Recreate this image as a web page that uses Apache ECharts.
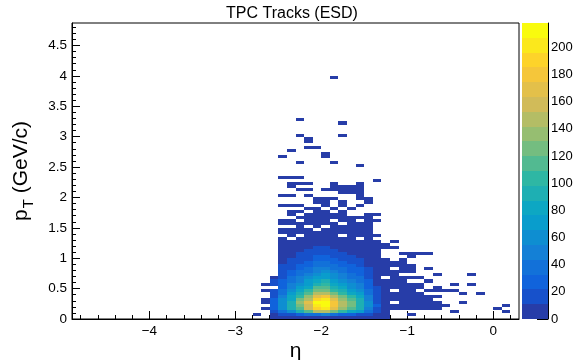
<!DOCTYPE html>
<html>
<head>
<meta charset="utf-8">
<script src="https://cdn.jsdelivr.net/npm/echarts@6/dist/echarts.min.js"></script>
<style>
  html, body { margin: 0; padding: 0; background: #fff; }
  #chart { width: 574px; height: 360px; }
</style>
</head>
<body>
<div id="chart"></div>
<script>
// bin sizes of the 2D histogram
const etaStep = 0.1;
const ptStep = 0.05;

// dense core: eta low edges of the columns, counts per pT bin (row j = pT j*0.05)
const coreEta = [-2.7, -2.6, -2.5, -2.4, -2.3, -2.2, -2.1, -2.0, -1.9, -1.8, -1.7, -1.6, -1.5, -1.4, -1.3, -1.2];
const coreCounts = [
  [0, 1, 2, 3, 5, 6, 8, 8, 7, 5, 4, 4, 2, 1, 1, 0],
  [0, 5, 13, 20, 27, 34, 42, 45, 38, 31, 25, 21, 12, 4, 2, 0],
  [0, 17, 43, 65, 91, 113, 146, 150, 124, 106, 84, 69, 38, 15, 5, 0],
  [1, 24, 55, 89, 118, 153, 190, 200, 167, 139, 115, 88, 53, 20, 7, 3],
  [0, 26, 61, 94, 130, 162, 207, 215, 177, 151, 121, 98, 55, 22, 8, 2],
  [3, 27, 60, 97, 131, 166, 210, 218, 182, 152, 125, 97, 58, 21, 8, 0],
  [3, 23, 57, 87, 121, 151, 193, 199, 165, 141, 113, 91, 51, 20, 6, 2],
  [0, 21, 48, 78, 104, 134, 167, 176, 146, 122, 101, 78, 46, 17, 6, 3],
  [0, 18, 42, 66, 91, 113, 143, 151, 124, 106, 85, 68, 39, 15, 5, 2],
  [1, 16, 36, 57, 78, 99, 125, 130, 108, 91, 74, 58, 34, 13, 5, 0],
  [0, 0, 32, 50, 68, 87, 109, 114, 95, 80, 65, 51, 30, 11, 4, 2],
  [1, 12, 28, 44, 60, 76, 96, 100, 83, 70, 57, 45, 26, 10, 3, 2],
  [0, 11, 25, 39, 53, 67, 84, 88, 73, 62, 50, 40, 23, 9, 3, 1],
  [0, 9, 21, 33, 46, 58, 73, 76, 63, 53, 43, 34, 20, 8, 0, 2],
  [0, 0, 18, 29, 40, 50, 63, 66, 55, 46, 38, 30, 17, 7, 3, 1],
  [0, 0, 16, 25, 34, 43, 54, 56, 46, 39, 32, 25, 15, 6, 2, 1],
  [0, 0, 13, 21, 29, 36, 46, 48, 40, 34, 27, 22, 12, 5, 2, 0],
  [0, 0, 11, 18, 24, 30, 38, 40, 33, 28, 23, 18, 10, 4, 1, 1],
  [0, 0, 10, 15, 20, 26, 33, 34, 28, 24, 19, 15, 9, 3, 2, 1],
  [0, 0, 8, 12, 17, 21, 27, 28, 23, 20, 16, 13, 7, 3, 1, 0],
  [0, 0, 6, 10, 14, 17, 22, 23, 19, 16, 13, 10, 6, 2, 0, 0],
  [0, 0, 5, 8, 11, 14, 17, 18, 15, 13, 10, 8, 5, 2, 0, 0],
  [0, 0, 4, 7, 9, 11, 14, 20, 12, 10, 9, 7, 4, 1, 0, 0],
  [0, 0, 3, 5, 7, 9, 12, 12, 10, 8, 7, 5, 3, 2, 1, 1]
];

// sparse cells outside the core: [eta, first pT row, counts upward]
const tailColumns = [
  [-2.8, 1, [1]],
  [-2.5, 24, [6, 4, 3, 0, 2, 2, 0, 1, 1, 0, 0, 0, 0, 1, 0, 0, 1, 0, 0, 0, 0, 0, 1, 0, 0, 0, 0, 0, 0, 1]],
  [-2.4, 24, [8, 6, 0, 4, 3, 2, 0, 2, 1, 0, 1, 1, 0, 1, 0, 0, 1, 0, 0, 1, 1, 0, 1, 0, 0, 0, 0, 0, 0, 0, 0, 1]],
  [-2.3, 24, [9, 7, 6, 0, 4, 3, 2, 2, 0, 1, 0, 1, 0, 1, 0, 0, 0, 0, 1, 0, 1, 0, 1, 0, 0, 0, 0, 1, 0, 0, 0, 0, 0, 0, 0, 0, 1, 0, 0, 0, 0, 1]],
  [-2.2, 24, [10, 8, 6, 5, 4, 3, 0, 2, 2, 1, 1, 0, 1, 0, 0, 0, 1, 0, 1, 0, 1, 0, 0, 0, 0, 0, 0, 0, 0, 0, 0, 0, 1, 0, 1, 1]],
  [-2.1, 24, [10, 9, 7, 6, 5, 0, 3, 3, 2, 2, 1, 2, 1, 0, 1, 1, 0, 0, 0, 0, 0, 0, 0, 0, 0, 0, 0, 0, 0, 0, 0, 0, 1]],
  [-2.0, 24, [10, 9, 8, 6, 5, 5, 0, 3, 3, 2, 2, 1, 0, 1, 1, 1, 0, 0, 1, 0, 0, 0, 0, 0, 0, 0, 0, 0, 0, 1, 1]],
  [-1.9, 24, [9, 8, 6, 5, 4, 4, 3, 2, 0, 1, 1, 0, 1, 0, 0, 1, 0, 0, 1, 1, 1, 0, 0, 0, 0, 0, 0, 1,
              0, 0, 0, 0, 0, 0, 0, 0, 0, 0, 0, 0, 0, 0, 0, 0, 0, 0, 0, 0, 0, 0, 0, 0, 0, 0, 0, 1]],
  [-1.8, 24, [8, 7, 5, 0, 4, 3, 2, 0, 2, 1, 1, 1, 0, 1, 1, 0, 0, 1, 1, 1, 0, 0, 0, 0, 0, 0, 0, 0, 0, 0, 0, 0, 0, 0, 0, 0, 1, 0, 0, 0, 1]],
  [-1.7, 24, [7, 6, 5, 4, 3, 2, 2, 1, 1, 1, 0, 0, 1, 0, 0, 0, 0, 1, 1, 1]],
  [-1.6, 24, [5, 5, 0, 3, 3, 2, 1, 1, 0, 1, 0, 0, 0, 1, 0, 1, 1, 1, 1, 1, 1, 0, 0, 0, 0, 0, 1]],
  [-1.5, 24, [3, 3, 2, 2, 1, 1, 1, 1, 1, 1, 1, 0, 0, 0, 1, 1]],
  [-1.4, 24, [2, 1, 0, 1, 0, 0, 0, 0, 1, 0, 1, 0, 0, 0, 0, 0, 0, 0, 0, 0, 0, 1]],
  [-1.3, 24, [1]],
  [-1.2, 24, [0, 1]],
  [-1.1, 3, [2, 3, 3, 2, 3, 2, 2, 2, 1, 2, 1, 0, 1, 1, 1, 1, 1, 0, 1]],
  [-1.0, 1, [1, 0, 1, 2, 2, 1, 2, 1, 1, 1, 1, 0, 1, 0, 1, 1, 1, 0, 0, 1, 1]],
  [-0.9, 3, [1, 1, 2, 1, 1, 1, 0, 1, 1, 0, 1, 0, 0, 0, 0, 0, 0, 0, 1]],
  [-0.8, 3, [1, 1, 1, 1, 1, 0, 1, 0, 0, 1, 0, 0, 0, 1, 0, 0, 0, 0, 1]],
  [-0.7, 3, [1, 1, 1, 0, 1, 0, 1, 1, 0, 0, 0, 1]],
  [-0.6, 4, [1, 0, 0, 0, 0, 1]],
  [-0.5, 2, [1, 0, 0, 0, 0, 0, 0, 1, 0, 1]],
  [-0.4, 5, [1, 0, 0, 1]],
  [-0.3, 11, [1, 0, 0, 1]],
  [-0.2, 8, [1]],
  [0.0, 3, [1]],
  [0.1, 2, [1, 0, 1]]
];

const xMajorTicks = [-4, -3, -2, -1, 0];
const yMajorTicks = [0, 0.5, 1, 1.5, 2, 2.5, 3, 3.5, 4, 4.5];
const zTicks = [0, 20, 40, 60, 80, 100, 120, 140, 160, 180, 200];
const zMax = 218;
const nContours = 20;

const font = "'Liberation Sans', Arial, Helvetica, sans-serif";

// ROOT kBird palette
const birdStops = [0.0, 0.125, 0.25, 0.375, 0.5, 0.625, 0.75, 0.875, 1.0];
const birdR = [0.2082, 0.0592, 0.0780, 0.0232, 0.1802, 0.5301, 0.8186, 0.9956, 0.9764];
const birdG = [0.1664, 0.3599, 0.5041, 0.6419, 0.7178, 0.7492, 0.7328, 0.7862, 0.9832];
const birdB = [0.5293, 0.8684, 0.8385, 0.7914, 0.6425, 0.4662, 0.3499, 0.1968, 0.0539];

function birdColor(t) {
  let k = 0;
  while (k < birdStops.length - 2 && t > birdStops[k + 1]) k++;
  const f = (t - birdStops[k]) / (birdStops[k + 1] - birdStops[k]);
  const ch = (a) => Math.round(255 * (a[k] + f * (a[k + 1] - a[k])));
  return 'rgb(' + ch(birdR) + ',' + ch(birdG) + ',' + ch(birdB) + ')';
}

const levels = [];
for (let i = 0; i <= nContours; i++) levels.push(zMax * i / nContours);
const bandColors = levels.slice(0, -1).map((_, i) => birdColor(Math.floor((i + 0.99) * 255 / nContours) / 254));
const bands = levels.slice(0, -1).map((lo, i) => [lo, levels[i + 1], (lo + levels[i + 1]) / 2]);
const pieces = bands.map(([lo, hi], i) => (i === nContours - 1
  ? { gte: lo, lte: hi + 1000, color: bandColors[i] }
  : { gte: lo, lt: hi, color: bandColors[i] }));

const cells = [];
coreCounts.forEach((row, j) => row.forEach((c, i) => {
  if (c > 0) cells.push([coreEta[i], +(j * ptStep).toFixed(2), c]);
}));
tailColumns.forEach(([eta, start, counts]) => counts.forEach((c, k) => {
  if (c > 0) cells.push([eta, +((start + k) * ptStep).toFixed(2), c]);
}));

const xMinorTicks = [];
for (let v = -48; v <= 2; v += 2) xMinorTicks.push(v / 10);
const yMinorTicks = [];
for (let v = 0; v <= 48; v++) yMinorTicks.push(v / 10);

const chart = echarts.init(document.getElementById('chart'), null, { renderer: 'canvas' });

const axisBase = {
  axisLine: { onZero: false, lineStyle: { color: '#000', width: 1 } },
  splitLine: { show: false }
};

const option = {
  animation: false,
  backgroundColor: '#fff',
  title: {
    text: 'TPC Tracks (ESD)',
    left: 292,
    top: 6,
    textAlign: 'center',
    padding: 0,
    textStyle: { fontFamily: font, fontSize: 16, fontWeight: 'normal', color: '#000' }
  },
  grid: [
    { left: 72, top: 23, width: 447, height: 296, show: true, borderColor: '#000', borderWidth: 1,
      backgroundColor: 'transparent', containLabel: false, outerBoundsMode: 'none' },
    { left: 522, top: 23, width: 26, height: 296, show: false, containLabel: false, outerBoundsMode: 'none' }
  ],
  visualMap: {
    type: 'piecewise',
    show: false,
    dimension: 2,
    seriesIndex: [0, 1],
    pieces: pieces
  },
  xAxis: [
    Object.assign({}, axisBase, {
      gridIndex: 0, type: 'value', min: -4.9, max: 0.3, position: 'bottom',
      axisTick: { show: true, inside: true, length: 8, customValues: xMajorTicks, lineStyle: { color: '#000' } },
      axisLabel: {
        customValues: xMajorTicks, color: '#000', fontFamily: font, fontSize: 13.5, margin: 5,
        formatter: (v) => (v < 0 ? '\u2212' + Math.abs(v) : String(v))
      },
      name: 'η', nameLocation: 'middle', nameGap: 22, nameMoveOverlap: false,
      nameTextStyle: { fontFamily: font, fontSize: 21, color: '#000' }
    }),
    Object.assign({}, axisBase, {
      gridIndex: 0, type: 'value', min: -4.9, max: 0.3, position: 'bottom',
      axisLine: { show: false, onZero: false },
      axisTick: { show: true, inside: true, length: 4, customValues: xMinorTicks, lineStyle: { color: '#000' } },
      axisLabel: { show: false }
    }),
    { gridIndex: 1, type: 'value', min: 0, max: 1, show: false }
  ],
  yAxis: [
    Object.assign({}, axisBase, {
      gridIndex: 0, type: 'value', min: 0, max: 4.87, position: 'left',
      axisTick: { show: true, inside: true, length: 8, customValues: yMajorTicks, lineStyle: { color: '#000' } },
      axisLabel: { customValues: yMajorTicks, color: '#000', fontFamily: font, fontSize: 13.5, margin: 5 },
      name: '{a|p}{b|T}{a| (GeV/c)}', nameLocation: 'middle', nameGap: 36, nameRotate: 90, nameMoveOverlap: false,
      nameTextStyle: {
        rich: {
          a: { fontFamily: font, fontSize: 21, color: '#000', verticalAlign: 'top' },
          b: { fontFamily: font, fontSize: 15, color: '#000', verticalAlign: 'top', padding: [10, 0, 0, 1] }
        }
      }
    }),
    Object.assign({}, axisBase, {
      gridIndex: 0, type: 'value', min: 0, max: 4.87, position: 'left',
      axisLine: { show: false, onZero: false },
      axisTick: { show: true, inside: true, length: 4, customValues: yMinorTicks, lineStyle: { color: '#000' } },
      axisLabel: { show: false }
    }),
    Object.assign({}, axisBase, {
      gridIndex: 1, type: 'value', min: 0, max: zMax, position: 'right',
      axisTick: { show: true, inside: true, length: 11, customValues: zTicks, lineStyle: { color: '#000' } },
      axisLabel: { customValues: zTicks, color: '#000', fontFamily: font, fontSize: 13, margin: 3 }
    })
  ],
  series: [
    {
      type: 'custom',
      xAxisIndex: 0,
      yAxisIndex: 0,
      silent: true,
      data: cells,
      encode: { x: 0, y: 1 },
      renderItem: (params, api) => {
        const eta = api.value(0);
        const pt = api.value(1);
        const p0 = api.coord([eta, pt]);
        const p1 = api.coord([eta + etaStep, pt + ptStep]);
        const l = Math.round(p0[0]), r = Math.round(p1[0]);
        const b = Math.round(p0[1]), t = Math.round(p1[1]);
        return {
          type: 'rect',
          shape: { x: l, y: t, width: r - l, height: b - t },
          style: { fill: api.visual('color') }
        };
      }
    },
    {
      type: 'custom',
      xAxisIndex: 2,
      yAxisIndex: 2,
      silent: true,
      data: bands,
      encode: { y: [0, 1] },
      renderItem: (params, api) => {
        const p0 = api.coord([0, api.value(0)]);
        const p1 = api.coord([1, api.value(1)]);
        const l = Math.round(p0[0]), r = Math.round(p1[0]);
        const b = Math.round(p0[1]), t = Math.round(p1[1]);
        return {
          type: 'rect',
          shape: { x: l, y: t, width: r - l, height: b - t },
          style: { fill: api.visual('color') }
        };
      }
    }
  ]
};

chart.setOption(option);
</script>
</body>
</html>
